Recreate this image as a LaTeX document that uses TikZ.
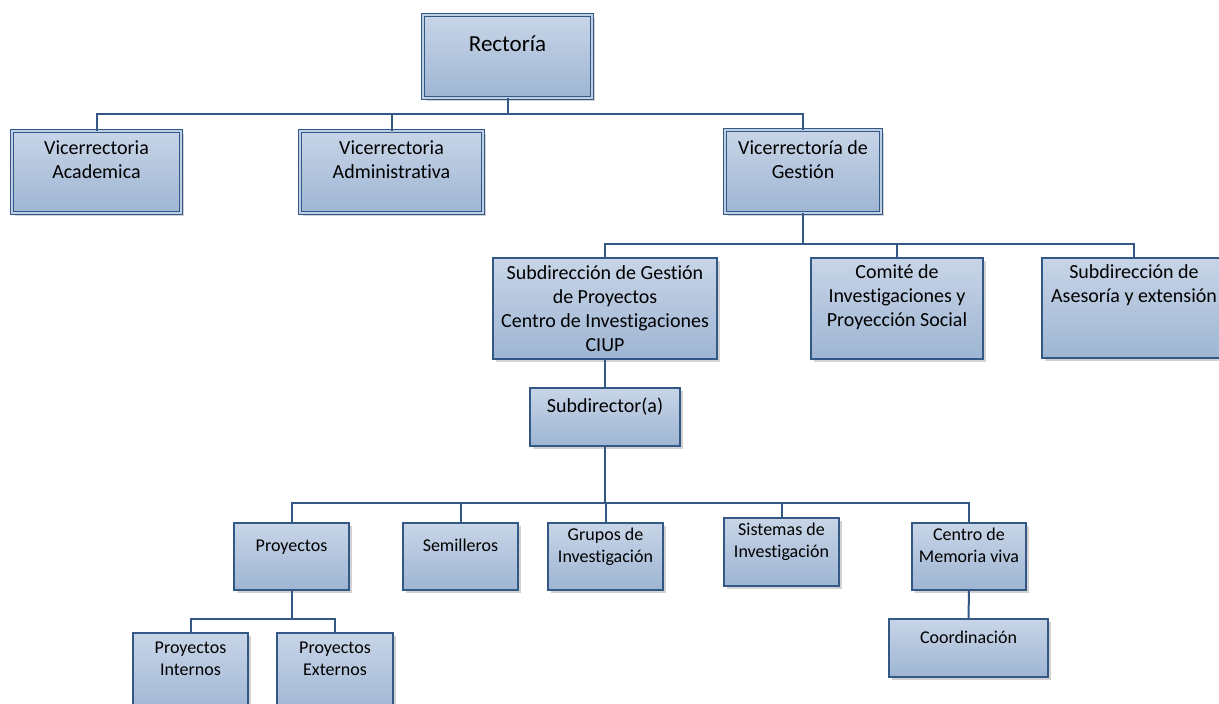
\documentclass[tikz,border=0pt]{standalone}
\usepackage{fontspec}
\setmainfont{Carlito}[Ligatures=NoCommon, RawFeature={-calt;-liga;-clig}]
\usetikzlibrary{shadows}
\definecolor{bordc}{RGB}{52,88,133}
\definecolor{ftop}{RGB}{200,213,231}
\definecolor{fbot}{RGB}{158,181,211}
\definecolor{fmid}{RGB}{190,206,228}
\newcommand{\orgtext}[4]{\parbox[c][#2][t]{#1}{\centering\rule{0pt}{#3}#4}}
\tikzset{
  orgbox/.style={draw=bordc, line width=1.1pt, top color=ftop, bottom color=fbot,
    inner sep=0pt, outer sep=0pt, anchor=north west,
    drop shadow={shadow xshift=3pt, shadow yshift=-3pt, fill=black!35}},
  dblbox/.style={orgbox, double=fmid, double distance=1.6pt, line width=1pt},
  conn/.style={draw=bordc, line width=2pt},
  fa/.style={font=\fontsize{20}{24}\selectfont},
  fr/.style={font=\fontsize{23}{28}\selectfont},
  fb/.style={font=\fontsize{18}{22.5}\selectfont},
}
\begin{document}
\begin{tikzpicture}[x=1pt,y=-1pt]
\useasboundingbox (0,0) rectangle (1219,704);
\coordinate (bus1) at (0,114);
\coordinate (bus2) at (0,244);
\coordinate (bus3) at (0,503);
\coordinate (bus4) at (0,619);
% level 0
\node[dblbox, fr] (rect) at (423,15) {\orgtext{169pt}{83pt}{36pt}{Rectoría}};
% level 1
\node[dblbox, fa] (acad) at (12,131) {\orgtext{169pt}{82pt}{23pt}{Vicerrectoria\\Academica}};
\node[dblbox, fa] (admin) at (300,131) {\orgtext{183pt}{82pt}{23pt}{Vicerrectoria\\Administrativa}};
\node[dblbox, fa] (gest) at (725,130) {\orgtext{156pt}{83pt}{24pt}{Vicerrectoría de\\Gestión}};
% level 2
\node[orgbox, fa] (subg) at (493,258) {\orgtext{224pt}{101pt}{21pt}{Subdirección de Gestión\\de Proyectos\\Centro de Investigaciones\\CIUP}};
\node[orgbox, fa] (comite) at (811,258) {\orgtext{172pt}{101pt}{20pt}{Comité de\\Investigaciones y\\Proyección Social}};
\node[orgbox, fa] (ases) at (1042,258) {\orgtext{184pt}{100pt}{20pt}{Subdirección de\\Asesoría y extensión}};
% level 3
\node[orgbox, fa] (subd) at (530,388) {\orgtext{150pt}{58pt}{24pt}{Subdirector(a)}};
% level 4
\node[orgbox, fb] (proy) at (234,523) {\orgtext{115pt}{67pt}{28pt}{Proyectos}};
\node[orgbox, fb] (semi) at (403,523) {\orgtext{115pt}{67pt}{28pt}{Semilleros}};
\node[orgbox, fb] (grup) at (548,523) {\orgtext{115pt}{67pt}{17pt}{Grupos de\\Investigación}};
\node[orgbox, fb] (sist) at (724,518) {\orgtext{115pt}{68pt}{17pt}{Sistemas de\\Investigación}};
\node[orgbox, fb] (cent) at (912,523) {\orgtext{114pt}{67pt}{17pt}{Centro de\\Memoria viva}};
% level 5
\node[orgbox, fb] (coord) at (889,619) {\orgtext{159pt}{58pt}{24pt}{Coordinación}};
\node[orgbox, fb] (pint) at (133,633) {\orgtext{115pt}{82pt}{20pt}{Proyectos\\Internos}};
\node[orgbox, fb] (pext) at (277,633) {\orgtext{116pt}{82pt}{20pt}{Proyectos\\Externos}};
% connectors
\foreach \c in {acad,admin,gest}
  \draw[conn] (rect.south) -- (rect.south |- bus1) -| (\c.north);
\foreach \c in {subg,comite,ases}
  \draw[conn] (gest.south) -- (gest.south |- bus2) -| (\c.north);
\draw[conn] (subg.south) -- (subd.north);
\foreach \c in {proy,semi,grup,sist,cent}
  \draw[conn] (subd.south) -- (subd.south |- bus3) -| (\c.north);
\foreach \c in {pint,pext}
  \draw[conn] (proy.south) -- (proy.south |- bus4) -| (\c.north);
\draw[conn] (cent.south) -- (coord.north);
\end{tikzpicture}
\end{document}
